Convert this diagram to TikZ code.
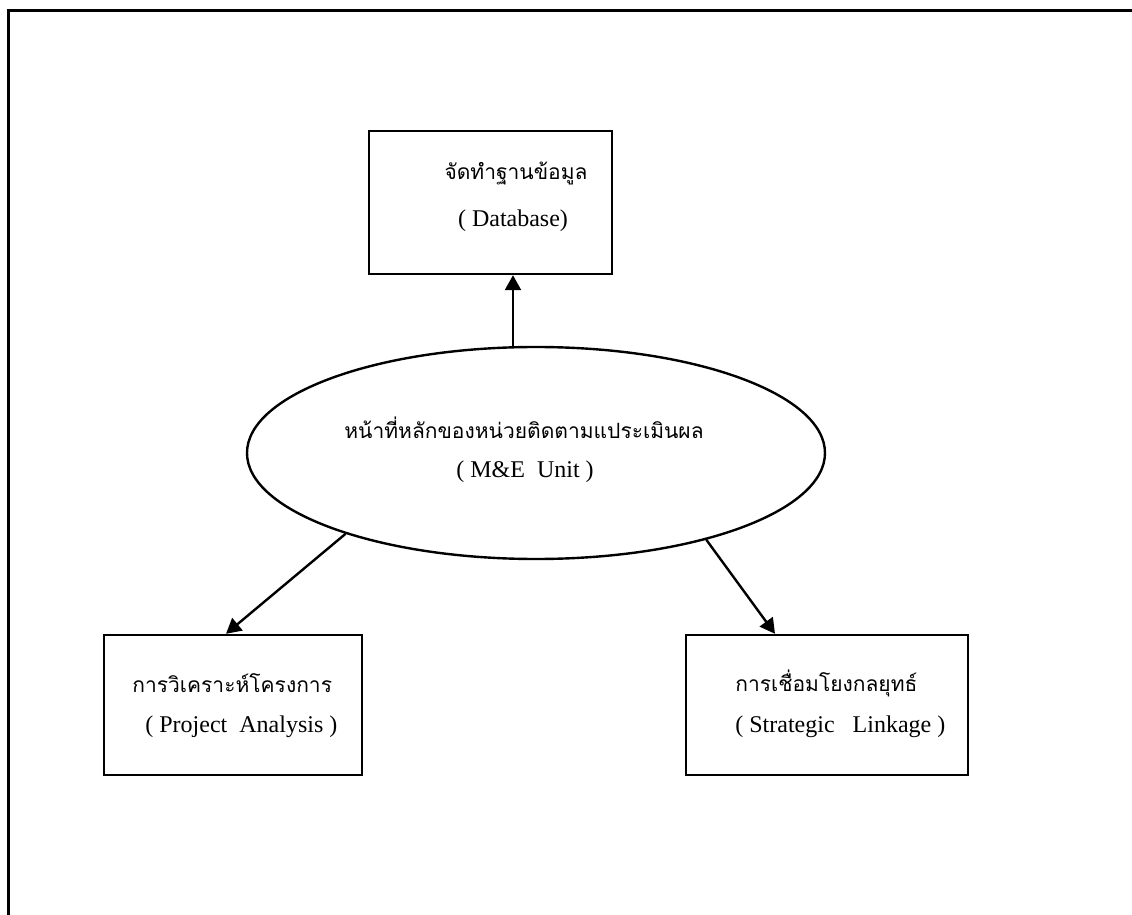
\documentclass[tikz,border=0pt]{standalone}
\usepackage{fontspec}
\setmainfont{Liberation Serif}
\newfontfamily\thaifont[Script=Thai]{Loma}
\usepackage{tikz}
\usetikzlibrary{positioning, arrows.meta, shapes.geometric}
\tikzstyle{block} = [rectangle, draw, line width=1.2pt, minimum height=70pt, inner sep=0pt]
\tikzstyle{line} = [draw, line width=1.2pt, -{Triangle[length=7.5pt, width=8pt]}]
\tikzstyle{thai} = [inner sep=0pt, font=\thaifont\fontsize{10.5}{12}\selectfont]
\tikzstyle{eng} = [inner sep=0pt, font=\fontsize{12}{14}\selectfont]

\begin{document}
\begin{tikzpicture}[x=0.5pt, y=-0.5pt]
    \useasboundingbox (0,0) rectangle (1132,915);
    % frame
    \draw [line width=1.5pt] (8,915) -- (8,11) -- (1132,11);

    \node (db) [block, minimum width=121.5pt, minimum height=71.5pt] at (490.5,202.5) {};
    \node (unit) [draw, ellipse, line width=1.2pt, minimum width=289pt, minimum height=106pt, inner sep=0pt] at (536,453) {};
    \node (pa) [block, minimum width=129pt] at (233,705) {};
    \node (sl) [block, minimum width=141pt] at (827,705) {};

    \node (db-th) [thai] at (516,173) {จัดทำฐานข้อมูล};
    \node (db-en) [eng] at (513,221) {( Database)};
    \node (unit-th) [thai] at (524,428) {หน้าที่หลักของหน่วยติดตามแประเมินผล};
    \node (unit-en) [eng] at (525,472) {( M\&E~ Unit )};
    \node (pa-th) [thai, anchor=west] at (132,683) {การวิเคราะห์โครงการ};
    \node (pa-en) [eng, anchor=west] at (145,727) {( Project~ Analysis )};
    \node (sl-th) [thai, anchor=west] at (735,683) {การเชื่อมโยงกลยุทธ์};
    \node (sl-en) [eng, anchor=west] at (735,727) {( Strategic~~ Linkage )};

    \path [line] ([xshift=-11.5pt]unit.north) -- ([xshift=-11.5pt]unit.north |- db.south);
    \path [line] (unit.203) -- ([xshift=-3.5pt]pa.north);
    \path [line] (unit.333) -- ([xshift=-26pt]sl.north);

\end{tikzpicture}
\end{document}
